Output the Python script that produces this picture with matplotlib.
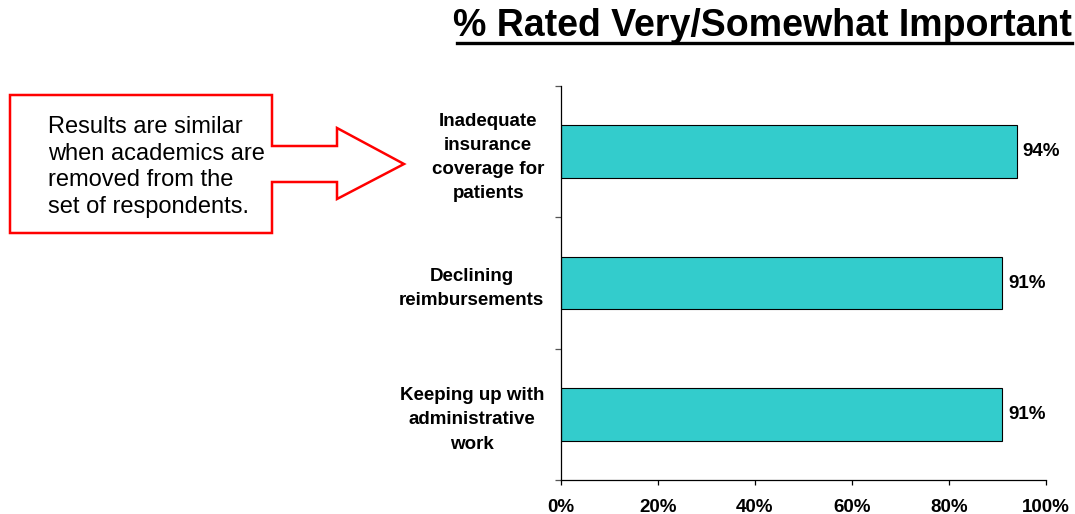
import matplotlib.pyplot as plt
from matplotlib.patches import Polygon
from matplotlib.lines import Line2D

plt.rcParams['font.family'] = ['Liberation Sans', 'DejaVu Sans']

# data
categories = ['Inadequate\ninsurance\ncoverage for\npatients',
              'Declining\nreimbursements',
              'Keeping up with\nadministrative\nwork']
values = [0.94, 0.91, 0.91]
value_labels = ['94%', '91%', '91%']
x_ticks = [0, 0.2, 0.4, 0.6, 0.8, 1.0]
x_tick_labels = ['0%', '20%', '40%', '60%', '80%', '100%']
title = '% Rated Very/Somewhat Important'
note = 'Results are similar\nwhen academics are\nremoved from the\nset of respondents.'

W, H = 1075, 514
fig = plt.figure(figsize=(W / 100, H / 100), dpi=100)

# axes in pixel positions
left, right, top, bottom = 561, 1046, 86, 480
ax = fig.add_axes([left / W, 1 - bottom / H, (right - left) / W, (bottom - top) / H])

y = list(range(len(categories)))
ax.barh(y, values, height=0.40, color='#33CCCC', edgecolor='black', linewidth=0.8)
for yi, v, lab in zip(y, values, value_labels):
    ax.text(v + 0.012, yi, lab, va='center', ha='left', fontsize=13.5, fontweight='bold')

ax.set_xlim(0, 1)
ax.set_ylim(len(categories) - 0.5, -0.5)
ax.spines['top'].set_visible(False)
ax.spines['right'].set_visible(False)
ax.spines['left'].set_linewidth(0.9)
ax.spines['bottom'].set_linewidth(0.9)

ax.set_xticks(x_ticks)
ax.set_xticklabels(x_tick_labels, fontsize=13.5, fontweight='bold')
ax.tick_params(axis='x', direction='out', length=3.5, width=0.9, pad=10)

ax.set_yticks(y)
ax.set_yticklabels(categories, fontsize=13.5, fontweight='bold', multialignment='center',
                   linespacing=1.55)
ax.tick_params(axis='y', which='major', length=0, pad=12)
ax.set_yticks([-0.5, 0.5, 1.5, 2.5], minor=True)
ax.tick_params(axis='y', which='minor', direction='out', length=4.5, width=0.9, color='#555555')

# title with underline
fig.text(1072 / W, 1 - 36 / H, title, ha='right', va='baseline', fontsize=27, fontweight='bold')
fig.add_artist(Line2D([457 / W, 1072 / W], [1 - 43 / H, 1 - 43 / H], color='black', linewidth=2.4))

# callout arrow box
pts = [(10, 95), (272, 95), (272, 146), (337, 146), (337, 128), (404, 164),
       (337, 199), (337, 182), (272, 182), (272, 233), (10, 233)]
fig.add_artist(Polygon([(px / W, 1 - py / H) for px, py in pts], closed=True,
                       facecolor='white', edgecolor='#FF0000', linewidth=1.8))
fig.text(48 / W, 1 - 167 / H, note, ha='left', va='center', fontsize=17, linespacing=1.27)

fig.savefig('out.png', dpi=100)
